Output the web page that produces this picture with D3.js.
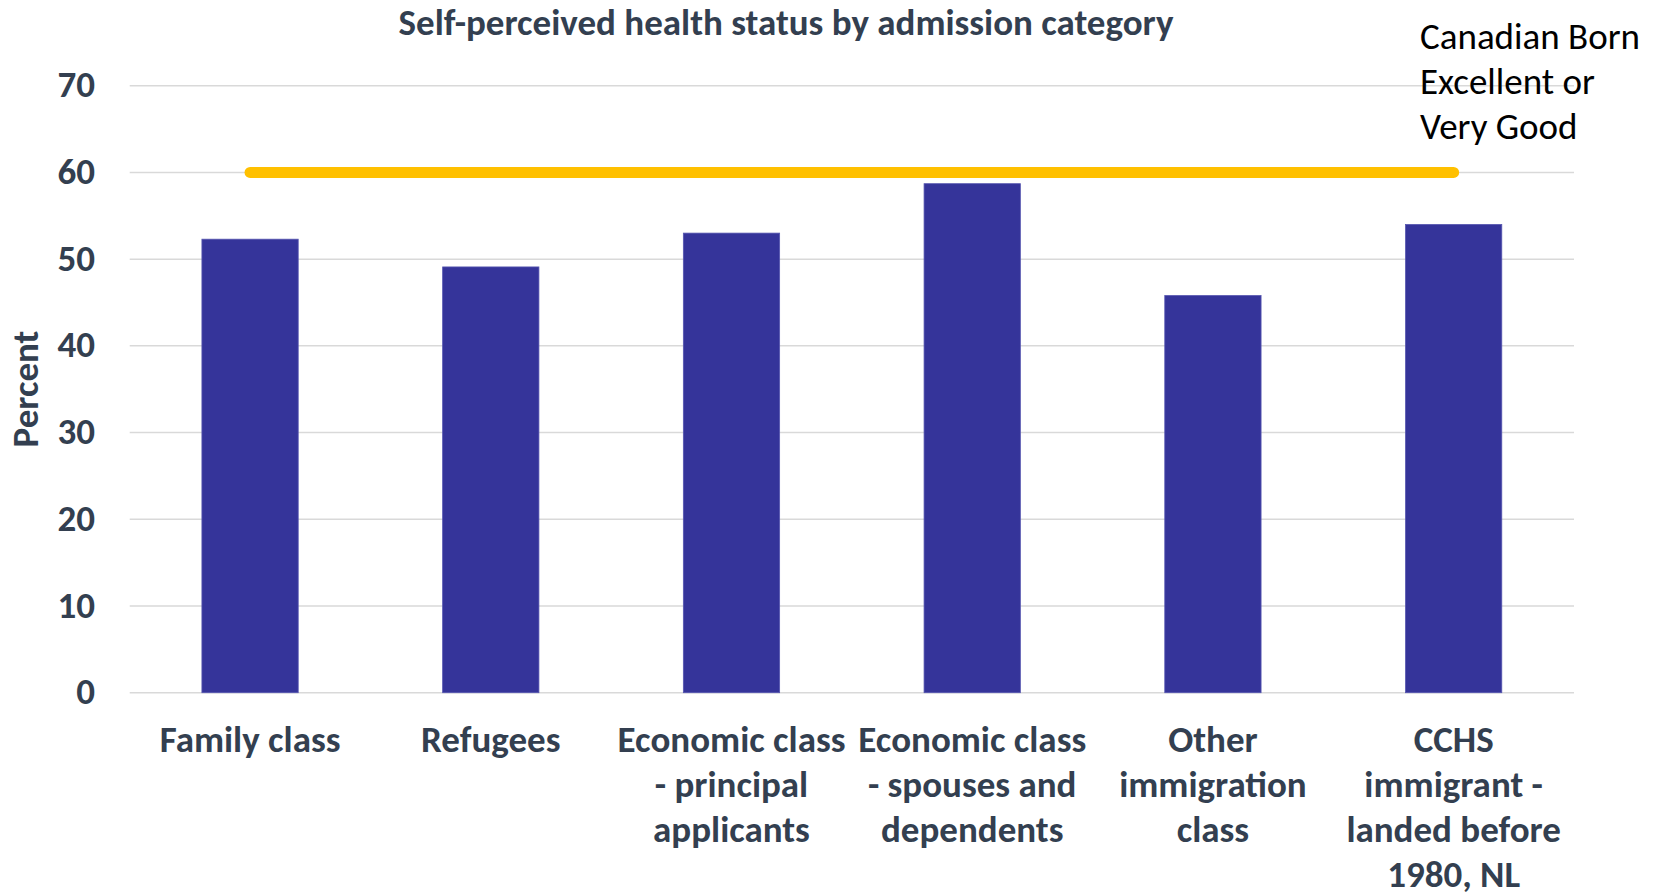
<!DOCTYPE html>
<html>
<head>
<meta charset="utf-8">
<script src="https://cdn.jsdelivr.net/npm/d3@7"></script>
<style>
  html, body { margin: 0; padding: 0; background: #ffffff; }
  svg { display: block; }
  text { font-family: Carlito, Calibri, Lato, "Open Sans", sans-serif; }
</style>
</head>
<body>
<svg id="chart" width="1659" height="896"></svg>
<script>
// Admission categories, with the line breaks used for their axis labels
const categories = [
  "Family class",
  "Refugees",
  "Economic class - principal applicants",
  "Economic class - spouses and dependents",
  "Other immigration class",
  "CCHS immigrant - landed before 1980, NL"
];
const categoryLines = [
  ["Family class"],
  ["Refugees"],
  ["Economic class", "- principal", "applicants"],
  ["Economic class", "- spouses and", "dependents"],
  ["Other", "immigration", "class"],
  ["CCHS", "immigrant -", "landed before", "1980, NL"]
];
// Percent reporting excellent or very good health
const percentValues = [52.3, 49.1, 53.0, 58.7, 45.8, 54.0];
// Canadian-born reference level, drawn across all categories
const canadianBorn = [60, 60, 60, 60, 60, 60];
const yTicks = [0, 10, 20, 30, 40, 50, 60, 70];
const chartTitle = "Self-perceived health status by admission category";
const yTitle = "Percent";
const lineLabel = ["Canadian Born", "Excellent or", "Very Good"];

const textColor = "#333f50";
const barColor = "#35349a";
const lineColor = "#ffc000";
const gridColor = "#d9d9d9";
const fontSize = 37;
const lineStep = 45;

const svg = d3.select("#chart");

const x = d3.scaleBand()
  .domain(categories)
  .range([129.7, 1574])
  .paddingInner(0.6)
  .paddingOuter(0.3);

const y = d3.scaleLinear()
  .domain([0, 70])
  .range([692.7, 85.7]);

// Horizontal gridlines
svg.append("g")
  .selectAll("line")
  .data(yTicks)
  .join("line")
  .attr("x1", x.range()[0])
  .attr("x2", x.range()[1])
  .attr("y1", d => y(d))
  .attr("y2", d => y(d))
  .attr("stroke", gridColor)
  .attr("stroke-width", 1.5);

// Y axis tick labels
const yAxis = d3.axisLeft(y).tickValues(yTicks).tickSize(0).tickPadding(0);
const yg = svg.append("g")
  .attr("transform", "translate(95,0)")
  .call(yAxis);
yg.select(".domain").remove();
yg.selectAll("text")
  .attr("fill", textColor)
  .attr("font-size", fontSize)
  .attr("font-weight", "bold")
  .attr("dy", "0.3em")
  .style("font-family", "Carlito, Calibri, Lato, 'Open Sans', sans-serif");

// Bars
svg.append("g")
  .selectAll("rect")
  .data(categories)
  .join("rect")
  .attr("x", d => x(d))
  .attr("width", x.bandwidth())
  .attr("y", (d, i) => y(percentValues[i]))
  .attr("height", (d, i) => y(0) - y(percentValues[i]))
  .attr("fill", barColor)
  .attr("stroke", "#5656b0")
  .attr("stroke-width", 0.8);

// Canadian-born line
const line = d3.line()
  .x((d, i) => x(categories[i]) + x.bandwidth() / 2)
  .y(d => y(d));
svg.append("path")
  .datum(canadianBorn)
  .attr("d", line)
  .attr("fill", "none")
  .attr("stroke", lineColor)
  .attr("stroke-width", 11)
  .attr("stroke-linecap", "round");

// Category labels
const xl = svg.append("g");
categories.forEach((c, i) => {
  const t = xl.append("text")
    .attr("x", x(c) + x.bandwidth() / 2)
    .attr("y", 752)
    .attr("text-anchor", "middle")
    .attr("fill", textColor)
    .attr("font-size", fontSize)
    .attr("font-weight", "bold");
  categoryLines[i].forEach((ln, j) => {
    t.append("tspan")
      .attr("x", x(c) + x.bandwidth() / 2)
      .attr("y", 752 + j * lineStep)
      .text(ln);
  });
});

// Title
svg.append("text")
  .attr("x", 786)
  .attr("y", 35)
  .attr("text-anchor", "middle")
  .attr("fill", textColor)
  .attr("font-size", fontSize)
  .attr("font-weight", "bold")
  .text(chartTitle);

// Y axis title
svg.append("text")
  .attr("transform", "translate(38,389) rotate(-90)")
  .attr("text-anchor", "middle")
  .attr("fill", textColor)
  .attr("font-size", fontSize)
  .attr("font-weight", "bold")
  .text(yTitle);

// Line label
const ll = svg.append("text")
  .attr("x", 1420)
  .attr("y", 49.3)
  .attr("fill", "#000000")
  .attr("font-size", fontSize);
lineLabel.forEach((ln, j) => {
  ll.append("tspan")
    .attr("x", 1420)
    .attr("y", 49.3 + j * lineStep)
    .text(ln);
});
</script>
</body>
</html>
